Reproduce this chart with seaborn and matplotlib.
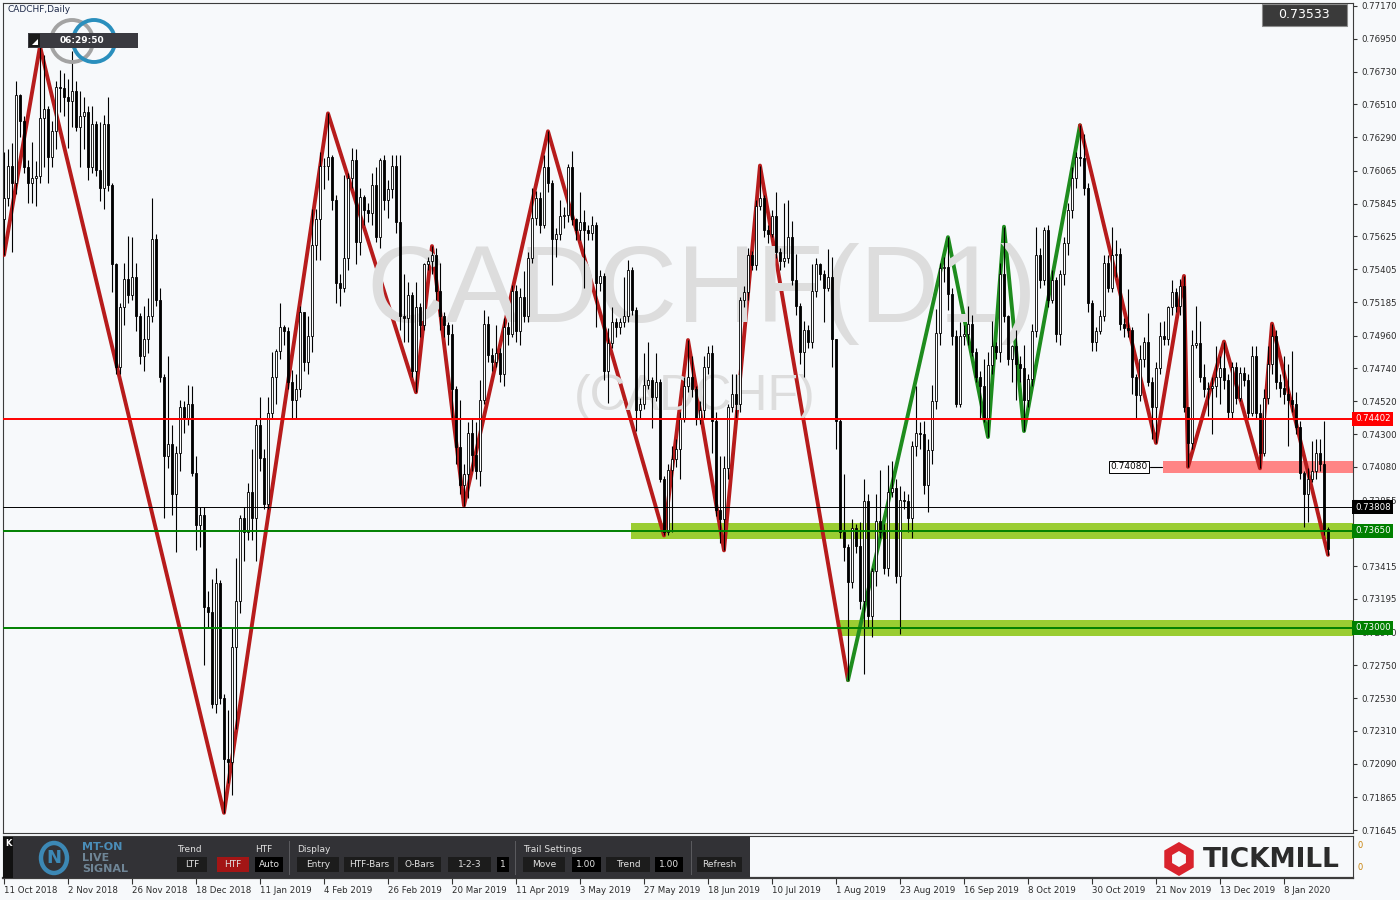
import matplotlib
matplotlib.use("Agg")
import matplotlib.pyplot as plt
import matplotlib.transforms as mtransforms
from matplotlib.patches import Rectangle, Ellipse, Polygon
import numpy as np
import pandas as pd
import seaborn as sns

# daily CADCHF candles (open = previous close)
first_open = 0.7574
closes = [
    0.7588, 0.7610, 0.7598, 0.7657, 0.7640, 0.7609, 0.7598, 0.7602, 0.7603, 0.7642,
    0.7648, 0.7616, 0.7633, 0.7663, 0.7662, 0.7656, 0.7653, 0.7660, 0.7636, 0.7643,
    0.7646, 0.7609, 0.7638, 0.7607, 0.7595, 0.7638, 0.7597, 0.7544, 0.7475, 0.7515,
    0.7534, 0.7523, 0.7535, 0.7509, 0.7482, 0.7494, 0.7509, 0.7561, 0.7520, 0.7468,
    0.7415, 0.7423, 0.7390, 0.7417, 0.7448, 0.7441, 0.7450, 0.7404, 0.7369, 0.7376,
    0.7314, 0.7311, 0.7249, 0.7330, 0.7253, 0.7212, 0.7210, 0.7287, 0.7318, 0.7374,
    0.7364, 0.7391, 0.7374, 0.7436, 0.7414, 0.7383, 0.7444, 0.7468, 0.7486, 0.7502,
    0.7499, 0.7465, 0.7453, 0.7460, 0.7512, 0.7478, 0.7496, 0.7557, 0.7574, 0.7610,
    0.7610, 0.7616, 0.7587, 0.7531, 0.7528, 0.7548, 0.7602, 0.7614, 0.7559, 0.7589,
    0.7580, 0.7578, 0.7597, 0.7562, 0.7614, 0.7587, 0.7594, 0.7610, 0.7572, 0.7509,
    0.7508, 0.7523, 0.7472, 0.7515, 0.7503, 0.7544, 0.7546, 0.7550, 0.7526, 0.7509,
    0.7503, 0.7497, 0.7460, 0.7421, 0.7396, 0.7403, 0.7431, 0.7416, 0.7405, 0.7453,
    0.7504, 0.7483, 0.7478, 0.7484, 0.7470, 0.7502, 0.7497, 0.7526, 0.7499, 0.7522,
    0.7509, 0.7548, 0.7575, 0.7588, 0.7570, 0.7609, 0.7598, 0.7561, 0.7564, 0.7576,
    0.7577, 0.7609, 0.7574, 0.7567, 0.7572, 0.7567, 0.7565, 0.7570, 0.7531, 0.7536,
    0.7472, 0.7491, 0.7505, 0.7502, 0.7505, 0.7509, 0.7540, 0.7513, 0.7446, 0.7450,
    0.7463, 0.7466, 0.7455, 0.7465, 0.7400, 0.7364, 0.7406, 0.7413, 0.7420, 0.7440,
    0.7462, 0.7468, 0.7460, 0.7441, 0.7446, 0.7475, 0.7484, 0.7439, 0.7379, 0.7373,
    0.7407, 0.7448, 0.7457, 0.7450, 0.7520, 0.7525, 0.7550, 0.7543, 0.7583, 0.7588,
    0.7567, 0.7564, 0.7576, 0.7552, 0.7546, 0.7548, 0.7562, 0.7533, 0.7516, 0.7485,
    0.7500, 0.7492, 0.7526, 0.7544, 0.7537, 0.7528, 0.7535, 0.7494, 0.7439, 0.7364,
    0.7354, 0.7331, 0.7367, 0.7355, 0.7318, 0.7385, 0.7308, 0.7338, 0.7372, 0.7364,
    0.7340, 0.7391, 0.7394, 0.7335, 0.7386, 0.7385, 0.7374, 0.7422, 0.7431, 0.7430,
    0.7396, 0.7419, 0.7452, 0.7498, 0.7541, 0.7542, 0.7524, 0.7496, 0.7450, 0.7496,
    0.7497, 0.7504, 0.7485, 0.7468, 0.7462, 0.7441, 0.7476, 0.7489, 0.7485, 0.7537,
    0.7509, 0.7480, 0.7489, 0.7477, 0.7474, 0.7453, 0.7467, 0.7499, 0.7550, 0.7533,
    0.7567, 0.7520, 0.7533, 0.7497, 0.7537, 0.7558, 0.7580, 0.7602, 0.7616, 0.7615,
    0.7595, 0.7518, 0.7492, 0.7499, 0.7509, 0.7545, 0.7528, 0.7550, 0.7551, 0.7504,
    0.7501, 0.7500, 0.7468, 0.7456, 0.7480, 0.7492, 0.7465, 0.7448, 0.7474, 0.7496,
    0.7494, 0.7515, 0.7525, 0.7516, 0.7529, 0.7448, 0.7424, 0.7490, 0.7491, 0.7468,
    0.7460, 0.7461, 0.7462, 0.7468, 0.7474, 0.7466, 0.7445, 0.7475, 0.7454, 0.7471,
    0.7466, 0.7444, 0.7482, 0.7444, 0.7417, 0.7454, 0.7477, 0.7496, 0.7465, 0.7461,
    0.7457, 0.7453, 0.7450, 0.7435, 0.7404, 0.7390, 0.7400, 0.7405, 0.7417, 0.7410,
    0.7366, 0.7353,
]
highs = [
    0.7619, 0.7621, 0.7625, 0.7667, 0.7658, 0.7643, 0.7614, 0.7626, 0.7613, 0.7690,
    0.7684, 0.7650, 0.7640, 0.7667, 0.7674, 0.7672, 0.7668, 0.7687, 0.7667, 0.7660,
    0.7656, 0.7650, 0.7650, 0.7640, 0.7639, 0.7644, 0.7656, 0.7598, 0.7545, 0.7518,
    0.7545, 0.7563, 0.7562, 0.7545, 0.7511, 0.7516, 0.7521, 0.7588, 0.7564, 0.7528,
    0.7470, 0.7482, 0.7436, 0.7422, 0.7453, 0.7452, 0.7463, 0.7462, 0.7415, 0.7381,
    0.7381, 0.7325, 0.7333, 0.7340, 0.7332, 0.7256, 0.7245, 0.7300, 0.7347, 0.7376,
    0.7381, 0.7397, 0.7420, 0.7441, 0.7455, 0.7420, 0.7455, 0.7485, 0.7487, 0.7518,
    0.7503, 0.7502, 0.7473, 0.7470, 0.7516, 0.7512, 0.7509, 0.7581, 0.7581, 0.7619,
    0.7615, 0.7645, 0.7617, 0.7590, 0.7537, 0.7604, 0.7605, 0.7622, 0.7621, 0.7595,
    0.7590, 0.7585, 0.7605, 0.7609, 0.7615, 0.7617, 0.7600, 0.7617, 0.7617, 0.7617,
    0.7537, 0.7532, 0.7525, 0.7532, 0.7518, 0.7545, 0.7549, 0.7556, 0.7555, 0.7545,
    0.7512, 0.7505, 0.7504, 0.7462, 0.7453, 0.7410, 0.7438, 0.7441, 0.7438, 0.7466,
    0.7513, 0.7509, 0.7488, 0.7503, 0.7488, 0.7508, 0.7505, 0.7530, 0.7530, 0.7528,
    0.7539, 0.7552, 0.7595, 0.7593, 0.7592, 0.7617, 0.7633, 0.7600, 0.7568, 0.7587,
    0.7582, 0.7611, 0.7620, 0.7575, 0.7592, 0.7580, 0.7570, 0.7576, 0.7572, 0.7540,
    0.7538, 0.7501, 0.7515, 0.7508, 0.7508, 0.7535, 0.7547, 0.7542, 0.7515, 0.7454,
    0.7484, 0.7492, 0.7468, 0.7484, 0.7467, 0.7402, 0.7410, 0.7422, 0.7427, 0.7445,
    0.7468, 0.7493, 0.7482, 0.7462, 0.7452, 0.7482, 0.7489, 0.7490, 0.7445, 0.7415,
    0.7415, 0.7450, 0.7470, 0.7470, 0.7522, 0.7529, 0.7555, 0.7553, 0.7587, 0.7610,
    0.7590, 0.7570, 0.7580, 0.7592, 0.7555, 0.7585, 0.7587, 0.7573, 0.7551, 0.7518,
    0.7506, 0.7503, 0.7544, 0.7548, 0.7545, 0.7540, 0.7554, 0.7549, 0.7494, 0.7440,
    0.7403, 0.7356, 0.7373, 0.7370, 0.7371, 0.7400, 0.7390, 0.7340, 0.7390, 0.7406,
    0.7370, 0.7409, 0.7412, 0.7400, 0.7395, 0.7392, 0.7390, 0.7425, 0.7462, 0.7438,
    0.7439, 0.7427, 0.7463, 0.7514, 0.7545, 0.7549, 0.7562, 0.7528, 0.7500, 0.7505,
    0.7503, 0.7516, 0.7510, 0.7488, 0.7472, 0.7480, 0.7485, 0.7506, 0.7492, 0.7545,
    0.7569, 0.7510, 0.7490, 0.7500, 0.7482, 0.7490, 0.7470, 0.7504, 0.7569, 0.7555,
    0.7569, 0.7570, 0.7540, 0.7535, 0.7540, 0.7562, 0.7585, 0.7609, 0.7619, 0.7637,
    0.7631, 0.7598, 0.7520, 0.7502, 0.7513, 0.7550, 0.7550, 0.7569, 0.7560, 0.7555,
    0.7508, 0.7527, 0.7502, 0.7470, 0.7490, 0.7495, 0.7511, 0.7468, 0.7478, 0.7505,
    0.7506, 0.7516, 0.7533, 0.7528, 0.7534, 0.7536, 0.7448, 0.7500, 0.7516, 0.7506,
    0.7477, 0.7465, 0.7468, 0.7489, 0.7482, 0.7492, 0.7470, 0.7478, 0.7478, 0.7475,
    0.7475, 0.7470, 0.7489, 0.7489, 0.7450, 0.7460, 0.7489, 0.7504, 0.7500, 0.7470,
    0.7482, 0.7477, 0.7486, 0.7458, 0.7439, 0.7405, 0.7407, 0.7425, 0.7427, 0.7427,
    0.7439, 0.7368,
]
lows = [
    0.7550, 0.7583, 0.7552, 0.7591, 0.7629, 0.7605, 0.7585, 0.7585, 0.7583, 0.7598,
    0.7609, 0.7598, 0.7609, 0.7621, 0.7646, 0.7643, 0.7622, 0.7636, 0.7633, 0.7609,
    0.7621, 0.7600, 0.7605, 0.7603, 0.7586, 0.7581, 0.7593, 0.7525, 0.7470, 0.7470,
    0.7503, 0.7518, 0.7520, 0.7499, 0.7477, 0.7472, 0.7484, 0.7505, 0.7516, 0.7465,
    0.7374, 0.7407, 0.7376, 0.7351, 0.7405, 0.7431, 0.7436, 0.7402, 0.7352, 0.7354,
    0.7275, 0.7300, 0.7246, 0.7243, 0.7249, 0.7176, 0.7196, 0.7188, 0.7232, 0.7310,
    0.7345, 0.7359, 0.7359, 0.7345, 0.7405, 0.7380, 0.7380, 0.7440, 0.7450, 0.7480,
    0.7490, 0.7460, 0.7441, 0.7441, 0.7455, 0.7472, 0.7470, 0.7485, 0.7547, 0.7547,
    0.7594, 0.7600, 0.7580, 0.7518, 0.7516, 0.7525, 0.7540, 0.7595, 0.7544, 0.7550,
    0.7570, 0.7572, 0.7570, 0.7559, 0.7555, 0.7580, 0.7575, 0.7588, 0.7565, 0.7500,
    0.7492, 0.7492, 0.7468, 0.7458, 0.7495, 0.7500, 0.7540, 0.7537, 0.7520, 0.7500,
    0.7495, 0.7490, 0.7440, 0.7410, 0.7390, 0.7382, 0.7387, 0.7405, 0.7400, 0.7395,
    0.7450, 0.7478, 0.7472, 0.7475, 0.7465, 0.7462, 0.7490, 0.7495, 0.7492, 0.7490,
    0.7505, 0.7505, 0.7545, 0.7570, 0.7565, 0.7568, 0.7592, 0.7530, 0.7549, 0.7560,
    0.7568, 0.7572, 0.7570, 0.7560, 0.7560, 0.7528, 0.7560, 0.7560, 0.7502, 0.7526,
    0.7466, 0.7451, 0.7488, 0.7495, 0.7497, 0.7502, 0.7505, 0.7510, 0.7432, 0.7440,
    0.7447, 0.7460, 0.7434, 0.7452, 0.7398, 0.7362, 0.7362, 0.7364, 0.7408, 0.7400,
    0.7438, 0.7458, 0.7455, 0.7436, 0.7437, 0.7440, 0.7470, 0.7417, 0.7375, 0.7357,
    0.7352, 0.7400, 0.7445, 0.7440, 0.7445, 0.7515, 0.7520, 0.7540, 0.7540, 0.7580,
    0.7562, 0.7558, 0.7562, 0.7548, 0.7540, 0.7542, 0.7545, 0.7530, 0.7510, 0.7477,
    0.7468, 0.7488, 0.7488, 0.7522, 0.7533, 0.7505, 0.7526, 0.7475, 0.7420, 0.7360,
    0.7345, 0.7265, 0.7327, 0.7350, 0.7313, 0.7269, 0.7300, 0.7294, 0.7328, 0.7360,
    0.7336, 0.7335, 0.7388, 0.7330, 0.7296, 0.7380, 0.7364, 0.7360, 0.7415, 0.7420,
    0.7390, 0.7378, 0.7410, 0.7447, 0.7490, 0.7532, 0.7513, 0.7490, 0.7448, 0.7448,
    0.7490, 0.7490, 0.7482, 0.7465, 0.7440, 0.7438, 0.7428, 0.7470, 0.7480, 0.7478,
    0.7505, 0.7476, 0.7465, 0.7453, 0.7465, 0.7432, 0.7448, 0.7462, 0.7495, 0.7528,
    0.7530, 0.7515, 0.7518, 0.7492, 0.7490, 0.7530, 0.7550, 0.7575, 0.7595, 0.7610,
    0.7590, 0.7512, 0.7486, 0.7486, 0.7497, 0.7506, 0.7525, 0.7525, 0.7535, 0.7500,
    0.7495, 0.7495, 0.7457, 0.7441, 0.7452, 0.7475, 0.7462, 0.7427, 0.7424, 0.7470,
    0.7490, 0.7490, 0.7510, 0.7512, 0.7510, 0.7445, 0.7408, 0.7420, 0.7488, 0.7465,
    0.7455, 0.7442, 0.7430, 0.7455, 0.7450, 0.7460, 0.7440, 0.7440, 0.7450, 0.7452,
    0.7462, 0.7440, 0.7442, 0.7440, 0.7407, 0.7415, 0.7450, 0.7470, 0.7460, 0.7455,
    0.7450, 0.7422, 0.7445, 0.7430, 0.7400, 0.7368, 0.7371, 0.7398, 0.7400, 0.7405,
    0.7362, 0.7349,
]

# zigzag legs (bar index, price)
red_leg1_bars = [0, 9, 55, 81, 103, 107, 115, 136, 165, 171, 180, 189, 211]
red_leg1_price = [0.7550, 0.7690, 0.7176, 0.7645, 0.7458, 0.7556, 0.7382, 0.7633,
                  0.7362, 0.7493, 0.7352, 0.7610, 0.7265]
green_leg_bars = [211, 236, 246, 250, 255, 269]
green_leg_price = [0.7265, 0.7562, 0.7428, 0.7569, 0.7432, 0.7637]
red_leg2_bars = [269, 288, 295, 296, 305, 314, 317, 331]
red_leg2_price = [0.7637, 0.7424, 0.7536, 0.7408, 0.7492, 0.7407, 0.7504, 0.7349]

price_ticks = [0.77170, 0.76950, 0.76730, 0.76510, 0.76290, 0.76065, 0.75845, 0.75625,
               0.75405, 0.75185, 0.74960, 0.74740, 0.74520, 0.74300, 0.74080, 0.73855,
               0.73635, 0.73415, 0.73195, 0.72970, 0.72750, 0.72530, 0.72310, 0.72090,
               0.71865, 0.71645]
# 0.73635 sits fully under the 0.73650 level box on the original
hidden_ticks = [0.73635]
date_labels = ['11 Oct 2018', '2 Nov 2018', '26 Nov 2018', '18 Dec 2018', '11 Jan 2019',
               '4 Feb 2019', '26 Feb 2019', '20 Mar 2019', '11 Apr 2019', '3 May 2019',
               '27 May 2019', '18 Jun 2019', '10 Jul 2019', '1 Aug 2019', '23 Aug 2019',
               '16 Sep 2019', '8 Oct 2019', '30 Oct 2019', '21 Nov 2019', '13 Dec 2019',
               '8 Jan 2020']
date_bars = list(range(0, 321, 16))

red_level = 0.74402
black_level = 0.73808
support_hi = 0.73650
support_lo = 0.73000
resist_level = 0.74080
last_price = 0.73533

BG = '#F7F9FB'
ZZ_RED = '#B71C1C'
ZZ_GREEN = '#1E8C1E'
BAND_GREEN = '#9ACD32'

W, H = 1400, 900
def fx(x):
    return x / W
def fy(y):
    return 1 - y / H

sns.set_theme(style='white')
plt.rcParams['font.family'] = ['DejaVu Sans']

fig = plt.figure(figsize=(14, 9), dpi=100, facecolor=BG)
ax = fig.add_axes([fx(3), fy(833), (1353 - 3) / W, (833 - 3) / H])
ax.set_facecolor(BG)
sub = fig.add_axes([fx(3), fy(878), (1353 - 3) / W, (878 - 836) / H])
sub.set_facecolor(BG)

# candles
n = len(closes)
opens = [first_open] + closes[:-1]
df = pd.DataFrame({'bar': np.arange(n), 'open': opens, 'high': highs,
                   'low': lows, 'close': closes})
up = df['close'] >= df['open']
ax.vlines(df['bar'], df['low'], df['high'], color='black', lw=0.8, zorder=5)
ax.bar(df['bar'], (df['close'] - df['open']).abs(), bottom=df[['open', 'close']].min(axis=1),
       width=0.55, color=np.where(up, 'white', 'black'), edgecolor='black',
       linewidth=0.6, zorder=6)

# zigzag
zz = pd.concat([
    pd.DataFrame({'bar': red_leg1_bars, 'price': red_leg1_price, 'leg': 'r1'}),
    pd.DataFrame({'bar': green_leg_bars, 'price': green_leg_price, 'leg': 'g'}),
    pd.DataFrame({'bar': red_leg2_bars, 'price': red_leg2_price, 'leg': 'r2'}),
])
sns.lineplot(data=zz, x='bar', y='price', hue='leg', units='leg', estimator=None,
             sort=False, legend=False, lw=2.8,
             palette={'r1': ZZ_RED, 'g': ZZ_GREEN, 'r2': ZZ_RED}, ax=ax, zorder=3)

# watermark
ax.text(0.5178, 0.6157, 'CADCHF(D1)', transform=ax.transAxes, ha='center', va='baseline',
        fontsize=79, color='#DDDDDD', family=['Liberation Sans', 'DejaVu Sans'], zorder=4)
ax.text(0.5126, 0.5096, '(CADCHF)', transform=ax.transAxes, ha='center', va='baseline',
        fontsize=36, color='#DDDDDD', family=['Liberation Sans', 'DejaVu Sans'], zorder=4)

# zones and levels
xmax = 337.25
ax.fill_between([156.75, xmax], support_hi - 0.00054, support_hi + 0.00054,
                color=BAND_GREEN, lw=0, zorder=1)
ax.fill_between([208.75, xmax], support_lo - 0.00054, support_lo + 0.00054,
                color=BAND_GREEN, lw=0, zorder=1)
ax.fill_between([289.75, xmax], resist_level - 0.0004, resist_level + 0.0004,
                color='#FF8585', lw=0, zorder=1)
ax.axhline(red_level, color='#FF0000', lw=1.4, zorder=7)
ax.axhline(black_level, color='black', lw=0.7, zorder=7)
ax.axhline(support_hi, color='#008000', lw=1.4, zorder=7)
ax.axhline(support_lo, color='#008000', lw=1.4, zorder=7)
ax.plot([286.6, 289.5], [resist_level, resist_level], color='black', lw=0.8, zorder=7)
ax.text(281.2, resist_level, f'{resist_level:.5f}', ha='center', va='center', fontsize=6.5,
        color='black', zorder=8,
        bbox=dict(boxstyle='square,pad=0.15', fc='white', ec='black', lw=0.7))

ax.set_xlim(-0.25, xmax)
ax.set_ylim(0.71625, 0.77190)
ax.set_xlabel('')
ax.set_ylabel('')
ax.set_xticks([])
ax.yaxis.tick_right()
ax.set_yticks(price_ticks)
ax.set_yticklabels(['' if v in hidden_ticks else f'{v:.5f}' for v in price_ticks])
ax.tick_params(axis='y', direction='out', length=3, width=0.8, pad=3, labelsize=6.2,
               color='#333333', labelcolor='#2A2A2A', right=True, left=False)
for s in ax.spines.values():
    s.set_visible(True)
    s.set_color('#3C3C3C')
    s.set_linewidth(0.8)

trans = mtransforms.blended_transform_factory(ax.transAxes, ax.transData)
for val, fc in [(red_level, '#FF0000'), (black_level, '#000000'),
                (support_hi, '#008000'), (support_lo, '#008000')]:
    ax.text(1.0015, val, f'{val:.5f}', transform=trans, ha='left', va='center',
            fontsize=6.2, color='white', clip_on=False, zorder=20,
            bbox=dict(boxstyle='square,pad=0.3', fc=fc, ec='none'))

# sub window with the date axis
sub.set_xlim(-0.25, xmax)
sub.set_ylim(0, 1)
sub.set_yticks([])
sub.set_xticks(date_bars)
sub.set_xticklabels(date_labels, ha='left')
sub.tick_params(axis='x', direction='out', length=4, width=0.8, pad=2, labelsize=6.2,
                color='#333333', labelcolor='#2A2A2A', bottom=True)
for s in sub.spines.values():
    s.set_visible(True)
    s.set_color('#3C3C3C')
    s.set_linewidth(0.8)
sub.spines['bottom'].set_linewidth(1.6)


def box(x0, y0, x1, y1, fc, ec='none', lw=0, z=1):
    fig.patches.append(Rectangle((fx(x0), fy(y1)), (x1 - x0) / W, (y1 - y0) / H,
                                 transform=fig.transFigure, facecolor=fc, edgecolor=ec,
                                 linewidth=lw, zorder=z))


def label(x, y, s, size=6.5, color='#E0E0E0', ha='left', weight='normal'):
    fig.text(fx(x), fy(y), s, fontsize=size, color=color, ha=ha, va='center',
             weight=weight, zorder=5)


# toolbar
box(3, 837, 750, 878, '#323236')
box(3, 837, 13, 878, '#111111', z=2)
label(5, 843, 'K', size=6, color='white', weight='bold')
fig.patches.append(Ellipse((fx(54), fy(858)), 26 / W, 30 / H, fill=False, ec='#3C88B5',
                           lw=3.2, transform=fig.transFigure, zorder=2))
label(54, 858, 'N', size=13, color='#3C88B5', ha='center', weight='bold')
label(82, 847, 'MT-ON', size=8, color='#4A8DB8', weight='bold')
label(82, 858, 'LIVE', size=8, color='#6F8596', weight='bold')
label(82, 869, 'SIGNAL', size=8, color='#6F8596', weight='bold')
label(177, 849, 'Trend')
label(255, 849, 'HTF')
label(297, 849, 'Display')
label(523, 849, 'Trail Settings')
buttons = [('LTF', 177, 207, '#1C1C1C'), ('HTF', 217, 249, '#A31515'),
           ('Auto', 255, 283, '#000000'), ('Entry', 297, 339, '#1C1C1C'),
           ('HTF-Bars', 344, 394, '#1C1C1C'), ('O-Bars', 398, 441, '#1C1C1C'),
           ('1-2-3', 448, 491, '#1C1C1C'), ('1', 497, 509, '#000000'),
           ('Move', 523, 565, '#1C1C1C'), ('1.00', 572, 601, '#000000'),
           ('Trend', 606, 650, '#1C1C1C'), ('1.00', 655, 683, '#000000'),
           ('Refresh', 697, 742, '#1C1C1C')]
for txt, x0, x1, fc in buttons:
    box(x0, 857, x1, 872, fc, z=2)
    label((x0 + x1) / 2, 864.5, txt, ha='center')
for xs in [289, 515, 691]:
    box(xs, 841, xs + 1, 875, '#5A5A5E', z=2)

# Tickmill logo
cx, cy = 1179, 859
hex_out = [(fx(cx + 17 * np.cos(np.radians(90 + 60 * k))),
            fy(cy - 17 * np.sin(np.radians(90 + 60 * k)))) for k in range(6)]
hex_in = [(fx(cx + 8 * np.cos(np.radians(90 + 60 * k))),
           fy(cy - 8 * np.sin(np.radians(90 + 60 * k)))) for k in range(6)]
fig.patches.append(Polygon(hex_out, closed=True, fc='#D9232D', ec='none',
                           transform=fig.transFigure, zorder=2))
fig.patches.append(Polygon(hex_in, closed=True, fc=BG, ec='none',
                           transform=fig.transFigure, zorder=3))
label(1203, 860, 'TICKMILL', size=19, color='#2B2B2B', weight='bold')
label(1357, 845, '0', size=6, color='#C8820A')
label(1357, 868, '0', size=6, color='#C8820A')

# top-left header
label(7, 10, 'CADCHF,Daily', size=6.5, color='#1E2A4A')
fig.patches.append(Ellipse((fx(72), fy(41)), 42 / W, 42 / H, fill=False, ec='#A3A3A3',
                           lw=2.8, transform=fig.transFigure, zorder=1))
fig.patches.append(Ellipse((fx(94), fy(41)), 42 / W, 42 / H, fill=False, ec='#2A8FBD',
                           lw=2.8, transform=fig.transFigure, zorder=1))
box(28, 33, 138, 48, '#3A3A40', z=2)
box(29, 34, 40, 47, '#1A1A1A', z=3)
fig.patches.append(Polygon([(fx(32), fy(45)), (fx(38), fy(45)), (fx(38), fy(39))],
                           closed=True, fc='white', ec='none', transform=fig.transFigure,
                           zorder=4))
label(82, 40.5, '06:29:50', size=6.5, color='white', ha='center', weight='bold')

# current price box
box(1262, 4, 1347, 26, '#3A3A3A', ec='#8C8C8C', lw=0.8, z=2)
label(1304, 15, f'{last_price:.5f}', size=9, color='white', ha='center')

fig.savefig('out.png', dpi=100, facecolor=BG)
